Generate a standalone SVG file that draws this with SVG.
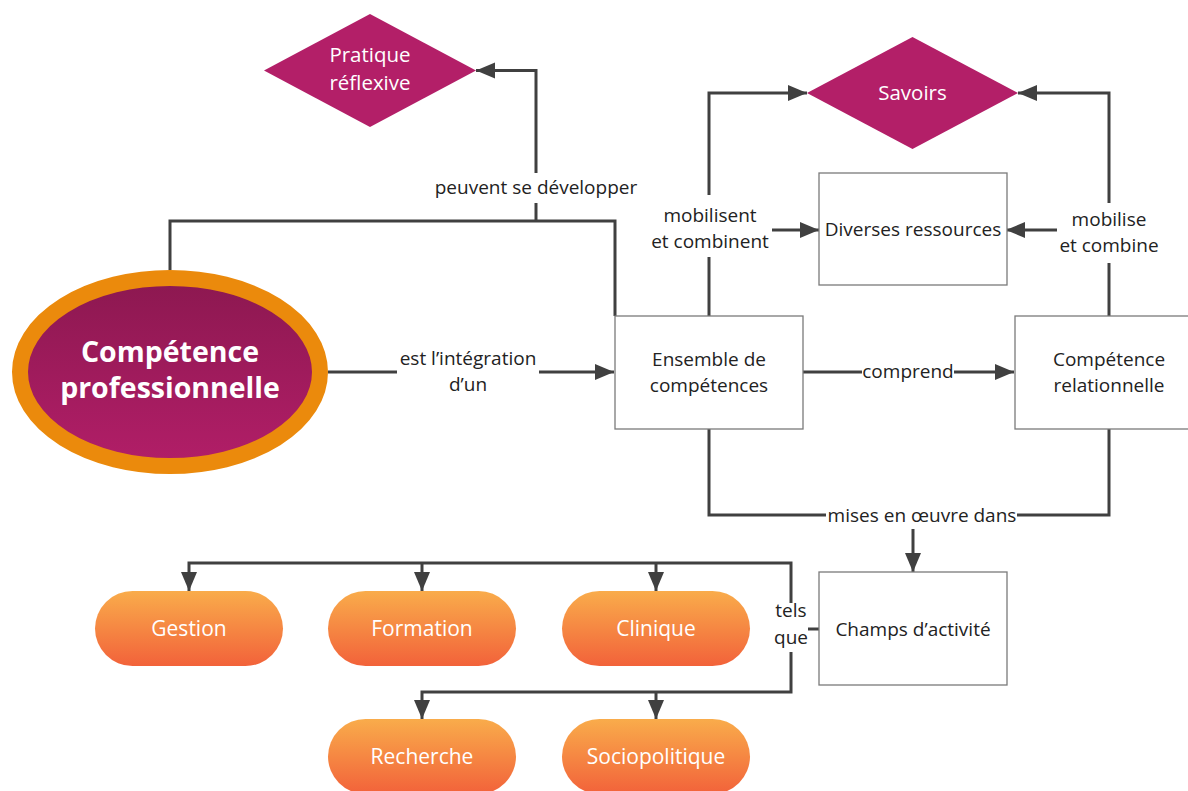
<svg xmlns="http://www.w3.org/2000/svg" width="1188" height="791" viewBox="0 0 1188 791">
  <style>
    .lbl { font-family: "Open Sans", "Noto Sans", "Liberation Sans", sans-serif; font-size: 19px; fill: #222; text-anchor: middle; }
    .wht { font-family: "Open Sans", "Noto Sans", "Liberation Sans", sans-serif; font-size: 20.5px; fill: #fff; text-anchor: middle; }
    .pt { font-size: 21px; }
    .big { font-family: "Open Sans", "Noto Sans", "Liberation Sans", sans-serif; font-size: 28.5px; font-weight: bold; fill: #fff; text-anchor: middle; }
    .box { fill: #fff; stroke: #7a7a7a; stroke-width: 1.3; }
    .dia { fill: #b31f68; }
    .pill { fill: url(#pillGrad); }
    .wire { fill: none; stroke: #404040; stroke-width: 3; }
    .arr { marker-end: url(#head); }
  </style>
  <defs>
    <linearGradient id="pillGrad" x1="0" y1="0" x2="0" y2="1">
      <stop offset="0" stop-color="#f9ac4b"/>
      <stop offset="1" stop-color="#f2623a"/>
    </linearGradient>
    <linearGradient id="coreGrad" x1="0" y1="0" x2="0" y2="1">
      <stop offset="0" stop-color="#8c1850"/>
      <stop offset="1" stop-color="#b21e68"/>
    </linearGradient>
    <marker id="head" markerUnits="userSpaceOnUse" markerWidth="20" markerHeight="18" refX="19" refY="8" orient="auto">
      <path d="M0,0 L19,8 L0,16 z" fill="#404040"/>
    </marker>
  </defs>
  <rect width="1188" height="791" fill="#fff"/>

  <!-- connectors -->
  <g id="connectors">
    <path class="wire" d="M170,270 V221 H615 V316"/>
    <path class="wire" d="M536,221 V203"/>
    <path class="wire arr" d="M536,173 V70.5 H476"/>
    <path class="wire" d="M328,372 H397"/>
    <path class="wire arr" d="M539,372 H614"/>
    <path class="wire" d="M709,316 V257"/>
    <path class="wire arr" d="M709,195 V93 H807"/>
    <path class="wire arr" d="M772,230 H819"/>
    <path class="wire" d="M1109,316 V263"/>
    <path class="wire arr" d="M1109,203 V93 H1018"/>
    <path class="wire arr" d="M1057,230 H1006"/>
    <path class="wire" d="M803,372 H862"/>
    <path class="wire arr" d="M954,372 H1014"/>
    <path class="wire" d="M709,429 V515 H826"/>
    <path class="wire" d="M1017,515 H1109 V429"/>
    <path class="wire arr" d="M913,529 V572"/>
    <path class="wire" d="M819,629 H808"/>
    <path class="wire arr" d="M791,603 V563 H189 V591"/>
    <path class="wire arr" d="M422,563 V591"/>
    <path class="wire arr" d="M656,563 V591"/>
    <path class="wire arr" d="M791,652 V692 H422 V719"/>
    <path class="wire arr" d="M656,692 V719"/>
    <text class="lbl" x="536" y="194">peuvent se développer</text>
    <text class="lbl" x="468" y="365">est l’intégration</text>
    <text class="lbl" x="468" y="391">d’un</text>
    <text class="lbl" x="710" y="222">mobilisent</text>
    <text class="lbl" x="710" y="248">et combinent</text>
    <text class="lbl" x="1109" y="226">mobilise</text>
    <text class="lbl" x="1109" y="252">et combine</text>
    <text class="lbl" x="908" y="378">comprend</text>
    <text class="lbl" x="922" y="522">mises en œuvre dans</text>
    <text class="lbl" x="791" y="617">tels</text>
    <text class="lbl" x="791" y="644">que</text>
  </g>

  <!-- central concept -->
  <g id="competence-professionnelle">
    <ellipse cx="170" cy="372" rx="150" ry="94" fill="url(#coreGrad)" stroke="#eb8a0c" stroke-width="16"/>
    <text class="big" x="170" y="362">Compétence</text>
    <text class="big" x="170" y="398">professionnelle</text>
  </g>

  <g id="pratique-reflexive">
    <polygon class="dia" points="264,70.5 370,14 476,70.5 370,127"/>
    <text class="wht" x="370" y="62">Pratique</text>
    <text class="wht" x="370" y="90">réflexive</text>
  </g>

  <g id="savoirs">
    <polygon class="dia" points="807,93 912.5,37 1018,93 912.5,149"/>
    <text class="wht" x="912.5" y="100">Savoirs</text>
  </g>

  <g id="diverses-ressources">
    <rect class="box" x="819" y="173" width="188" height="112"/>
    <text class="lbl" x="913" y="236">Diverses ressources</text>
  </g>

  <g id="ensemble-competences">
    <rect class="box" x="615" y="316" width="188" height="113"/>
    <text class="lbl" x="709" y="366">Ensemble de</text>
    <text class="lbl" x="709" y="392">compétences</text>
  </g>

  <g id="competence-relationnelle">
    <rect class="box" x="1015" y="316" width="188" height="113"/>
    <text class="lbl" x="1109" y="366">Compétence</text>
    <text class="lbl" x="1109" y="392">relationnelle</text>
  </g>

  <g id="champs-activite">
    <rect class="box" x="819" y="572" width="188" height="113"/>
    <text class="lbl" x="913" y="636">Champs d’activité</text>
  </g>

  <g id="gestion">
    <rect class="pill" x="95" y="591" width="188" height="75" rx="37.5"/>
    <text class="wht pt" x="189" y="636">Gestion</text>
  </g>
  <g id="formation">
    <rect class="pill" x="328" y="591" width="188" height="75" rx="37.5"/>
    <text class="wht pt" x="422" y="636">Formation</text>
  </g>
  <g id="clinique">
    <rect class="pill" x="562" y="591" width="188" height="75" rx="37.5"/>
    <text class="wht pt" x="656" y="636">Clinique</text>
  </g>
  <g id="recherche">
    <rect class="pill" x="328" y="719" width="188" height="75" rx="37.5"/>
    <text class="wht pt" x="422" y="764">Recherche</text>
  </g>
  <g id="sociopolitique">
    <rect class="pill" x="562" y="719" width="188" height="75" rx="37.5"/>
    <text class="wht pt" x="656" y="764">Sociopolitique</text>
  </g>
</svg>
